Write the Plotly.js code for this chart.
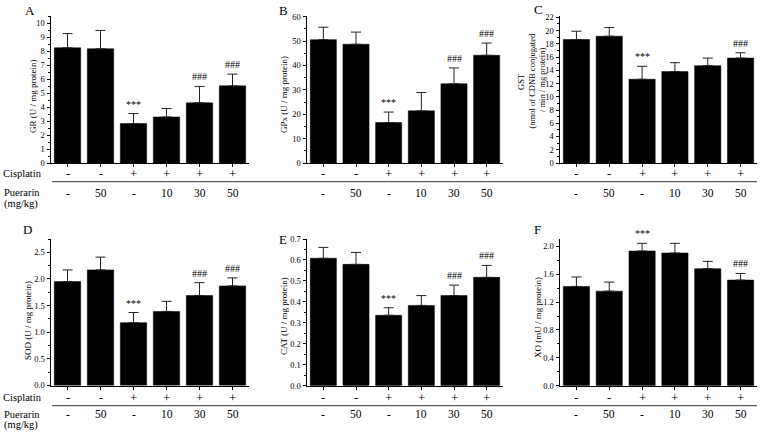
<!DOCTYPE html>
<html>
<head>
<meta charset="utf-8">
<script src="https://cdn.plot.ly/plotly-3.0.1.min.js"></script>
<style>html,body{margin:0;padding:0;background:#fff;}#chart{width:767px;height:433px;}</style>
</head>
<body>
<div id="chart"></div>
<script>
// ---- data ----
var groups = [0, 1, 2, 3, 4, 5];
var cisplatin = ['-', '-', '+', '+', '+', '+'];
var puerarin = ['-', '50', '-', '10', '30', '50'];

var grMean  = [8.23, 8.16, 2.82, 3.29, 4.30, 5.51];
var grErr   = [1.01, 1.31, 0.71, 0.60, 1.17, 0.84];
var gpxMean = [50.6, 48.7, 16.6, 21.4, 32.5, 44.2];
var gpxErr  = [5.1, 5.0, 4.3, 7.5, 6.5, 5.0];
var gstMean = [18.65, 19.15, 12.65, 13.80, 14.70, 15.85];
var gstErr  = [1.25, 1.30, 1.95, 1.35, 1.15, 0.80];
var sodMean = [1.95, 2.17, 1.18, 1.39, 1.69, 1.87];
var sodErr  = [0.22, 0.24, 0.19, 0.19, 0.24, 0.15];
var catMean = [0.608, 0.579, 0.336, 0.383, 0.430, 0.517];
var catErr  = [0.052, 0.057, 0.036, 0.047, 0.050, 0.057];
var xoMean  = [1.424, 1.357, 1.933, 1.904, 1.679, 1.516];
var xoErr   = [0.136, 0.130, 0.110, 0.139, 0.105, 0.095];

var grMarks  = ['', '', '***', '', '###', '###'];
var gpxMarks = ['', '', '***', '', '###', '###'];
var gstMarks = ['', '', '***', '', '', '###'];
var sodMarks = ['', '', '***', '', '###', '###'];
var catMarks = ['', '', '***', '', '###', '###'];
var xoMarks  = ['', '', '***', '', '', '###'];

var panelLetters = ['A', 'B', 'C', 'D', 'E', 'F'];
var yTitles = [['GR (U / mg protein)'], ['GPx (U / mg protein)'],
  ['GST', '(nmol of CDNB conjugated', '/ min / mg protein)'],
  ['SOD (U / mg protein)'], ['CAT (U / mg protein)'], ['XO (mU / mg protein)']];

// ---- layout helpers ----
var W = 767, H = 433;
function fx(p) { return p / W; }
function fy(p) { return 1 - p / H; }
var FONT = '"Liberation Serif", "Times New Roman", serif';

var panels = [
  {mean: grMean, err: grErr, marks: grMarks, range: [0, 10.5], dtick: 1, minor: 0.5, fmt: 'd',
   x0: 51, x1: 249, y0: 16, y1: 163, letter: [30, 10], title: [[33, 96]], tfs: 9},
  {mean: gpxMean, err: gpxErr, marks: gpxMarks, range: [0, 60.3], dtick: 10, minor: 5, fmt: 'd',
   x0: 307, x1: 503, y0: 16, y1: 163, letter: [283, 10], title: [[284, 95]], tfs: 9},
  {mean: gstMean, err: gstErr, marks: gstMarks, range: [0, 22.2], dtick: 2, minor: 1, fmt: 'd',
   x0: 560, x1: 757, y0: 16, y1: 163, letter: [538, 9], title: [[521, 82], [531.5, 81], [542, 80]], tfs: 8.5},
  {mean: sodMean, err: sodErr, marks: sodMarks, range: [0, 2.75], dtick: 0.5, minor: 0.25, fmt: '.1f',
   x0: 51, x1: 249, y0: 239, y1: 385.5, letter: [28, 230], title: [[28, 320]], tfs: 9},
  {mean: catMean, err: catErr, marks: catMarks, range: [0, 0.7], dtick: 0.1, minor: 0.05, fmt: '.1f',
   x0: 307, x1: 503, y0: 239, y1: 385.7, letter: [283, 239], title: [[284, 316]], tfs: 9},
  {mean: xoMean, err: xoErr, marks: xoMarks, range: [0, 2.105], dtick: 0.4, minor: 0.2, fmt: '.1f',
   x0: 560, x1: 757, y0: 239, y1: 385.7, letter: [537, 230], title: [[538, 318]], tfs: 9}
];

// row positions (px): cisplatin row, separator, puerarin row, unit row
var rows = [
  {cis: 173, sep: 181.7, pue: 192.7, unit: 204},
  {cis: 397, sep: 405.7, pue: 414.3, unit: 425}
];

var data = [];
var layout = {
  width: W, height: H,
  margin: {l: 0, r: 0, t: 0, b: 0},
  paper_bgcolor: '#fff', plot_bgcolor: '#fff',
  showlegend: false,
  font: {family: FONT, color: '#000', size: 9},
  annotations: [],
  shapes: []
};

panels.forEach(function (p, i) {
  var n = i + 1;
  var xa = 'x' + (n === 1 ? '' : n), ya = 'y' + (n === 1 ? '' : n);
  data.push({
    type: 'bar', x: groups, y: p.mean, xaxis: xa, yaxis: ya, width: 0.8,
    marker: {color: '#000', line: {color: '#000', width: 0.5}},
    error_y: {type: 'data', array: p.err, symmetric: false, arrayminus: [0,0,0,0,0,0],
              color: '#222', thickness: 1, width: 5},
    hoverinfo: 'skip'
  });
  layout['xaxis' + (n === 1 ? '' : n)] = {
    domain: [fx(p.x0), fx(p.x1)], anchor: ya, range: [-0.5, 5.5],
    showgrid: false, zeroline: false, showline: true, linecolor: '#000', linewidth: 1,
    ticks: 'outside', ticklen: 3, tickcolor: '#000', tickvals: groups, showticklabels: false,
    fixedrange: true
  };
  layout['yaxis' + (n === 1 ? '' : n)] = {
    domain: [fy(p.y1), fy(p.y0)], anchor: xa, range: p.range,
    showgrid: false, zeroline: false, showline: true, linecolor: '#000', linewidth: 1,
    ticks: 'outside', ticklen: 3.5, tickcolor: '#000', dtick: p.dtick, tick0: 0,
    tickformat: p.fmt, tickfont: {family: FONT, size: 8.5, color: '#000'},
    minor: {ticks: 'outside', ticklen: 2, dtick: p.minor, tick0: 0, tickcolor: '#000'},
    fixedrange: true
  };
  layout.annotations.push({xref: 'paper', yref: 'paper', x: fx(p.letter[0]), y: fy(p.letter[1]),
    text: panelLetters[i], showarrow: false, xanchor: 'center', yanchor: 'middle',
    font: {family: FONT, size: 13, color: '#000'}});
  yTitles[i].forEach(function (t, j) {
    layout.annotations.push({xref: 'paper', yref: 'paper', x: fx(p.title[j][0]), y: fy(p.title[j][1]),
      text: t, showarrow: false, textangle: -90, xanchor: 'center', yanchor: 'middle',
      font: {family: FONT, size: p.tfs, color: '#000'}});
  });
  p.marks.forEach(function (m, k) {
    if (!m) return;
    layout.annotations.push({xref: xa, yref: ya, x: groups[k], y: p.mean[k] + p.err[k],
      text: m, showarrow: false, xanchor: 'center', yanchor: 'bottom', yshift: 2,
      font: {family: FONT, size: 10, color: '#000'}});
  });
  var r = rows[i < 3 ? 0 : 1];
  groups.forEach(function (g, k) {
    layout.annotations.push({xref: xa, yref: 'paper', x: g, y: fy(r.cis),
      text: cisplatin[k], showarrow: false, xanchor: 'center', yanchor: 'middle',
      font: {family: FONT, size: 13, color: '#000'}});
    layout.annotations.push({xref: xa, yref: 'paper', x: g, y: fy(r.pue),
      text: puerarin[k], showarrow: false, xanchor: 'center', yanchor: 'middle',
      font: {family: FONT, size: 11.5, color: '#000'}});
  });
});

rows.forEach(function (r) {
  layout.annotations.push({xref: 'paper', yref: 'paper', x: fx(1), y: fy(r.cis),
    text: 'Cisplatin', showarrow: false, xanchor: 'left', yanchor: 'middle',
    font: {family: FONT, size: 10.5, color: '#000'}});
  layout.annotations.push({xref: 'paper', yref: 'paper', x: fx(2), y: fy(r.pue),
    text: 'Puerarin', showarrow: false, xanchor: 'left', yanchor: 'middle',
    font: {family: FONT, size: 10.5, color: '#000'}});
  layout.annotations.push({xref: 'paper', yref: 'paper', x: fx(2), y: fy(r.unit),
    text: '(mg/kg)', showarrow: false, xanchor: 'left', yanchor: 'middle',
    font: {family: FONT, size: 10.5, color: '#000'}});
  layout.shapes.push({type: 'line', xref: 'paper', yref: 'paper',
    x0: fx(52), x1: fx(757), y0: fy(r.sep), y1: fy(r.sep),
    line: {color: '#333', width: 1}});
});

Plotly.newPlot('chart', data, layout, {displayModeBar: false, staticPlot: true});
</script>
</body>
</html>
